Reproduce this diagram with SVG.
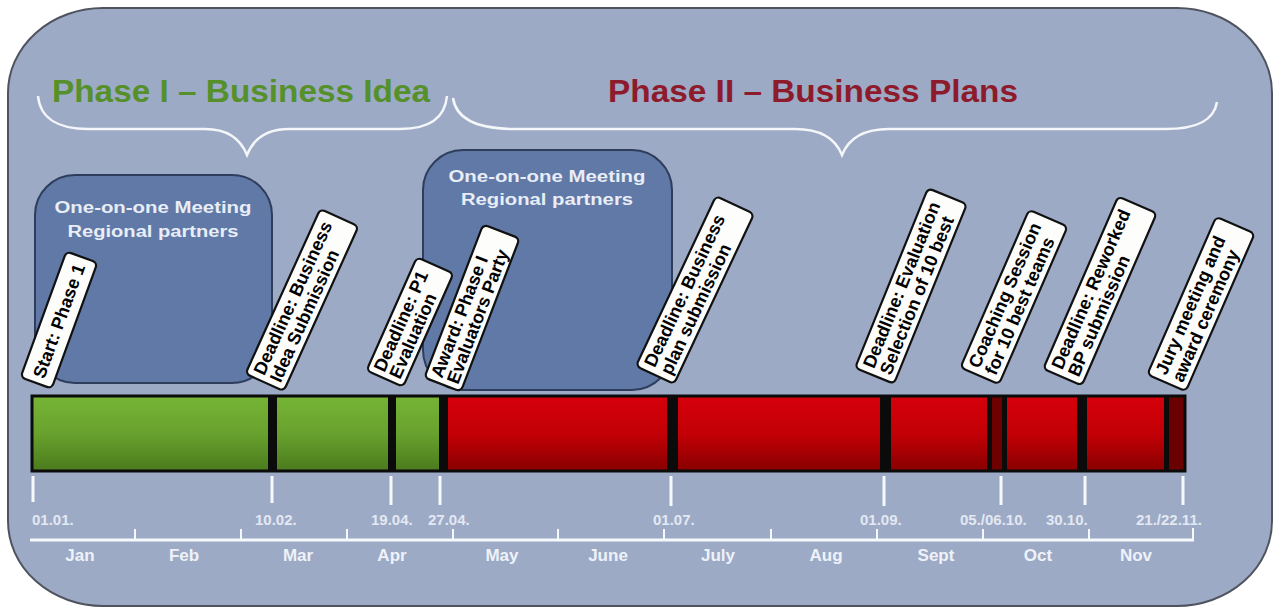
<svg xmlns="http://www.w3.org/2000/svg" width="1278" height="610" viewBox="0 0 1278 610">
<style>
.title{font-family:"Liberation Sans",Arial,sans-serif;font-weight:bold;font-size:31px}
.mt{font-family:"Liberation Sans",Arial,sans-serif;font-weight:bold;font-size:16px;fill:#E8EDF6;text-anchor:middle}
.meet{fill:#6079A6;stroke:#2E3D5C;stroke-width:2}
.tag{fill:#FDFDFB;stroke:#111;stroke-width:2.2}
.tt{font-family:"Liberation Sans",Arial,sans-serif;font-weight:bold;font-size:18px;fill:#000}
.brace{fill:none;stroke:#F4F6FA;stroke-width:2.5}
.div{fill:#0B0B0B}
.tick{stroke:#F6F8FB;stroke-width:3}
.date{font-family:"Liberation Sans",Arial,sans-serif;font-weight:bold;font-size:15px;fill:#E3E8F2}
.month{font-family:"Liberation Sans",Arial,sans-serif;font-weight:bold;font-size:17px;fill:#EEF2F8;text-anchor:middle}
</style>
<defs>
<linearGradient id="gGreen" x1="0" y1="0" x2="0" y2="1">
<stop offset="0" stop-color="#76B536"/>
<stop offset="0.5" stop-color="#68A22E"/>
<stop offset="1" stop-color="#4B7A1D"/>
</linearGradient>
<linearGradient id="gRed" x1="0" y1="0" x2="0" y2="1">
<stop offset="0" stop-color="#D6000C"/>
<stop offset="0.5" stop-color="#C30006"/>
<stop offset="1" stop-color="#880000"/>
</linearGradient>
</defs>
<rect width="1278" height="610" fill="#FFFFFF"/>
<rect id="frame" x="8" y="8" width="1264" height="598" rx="95" ry="85" fill="#9CAAC6" stroke="#4E535E" stroke-width="2"/>

<g id="phase1-title"><text class="title" x="52" y="102" fill="#55902A" textLength="378" lengthAdjust="spacingAndGlyphs">Phase I – Business Idea</text></g>
<g id="phase2-title"><text class="title" x="608" y="102" fill="#8E1B2C" textLength="410" lengthAdjust="spacingAndGlyphs">Phase II – Business Plans</text></g>

<g id="braces">
<path class="brace" d="M38 96 C40 118 58 129 88 129 L205 129 C228 129 241 140 247 155 C253 140 266 129 289 129 L400 129 C430 129 445 118 447 96"/>
<path class="brace" d="M453 98 C456 119 478 129 515 129 L795 129 C822 129 836 140 842 155 C848 140 862 129 889 129 L1165 129 C1198 129 1214 120 1217 102"/>
</g>

<g id="meeting1"><rect class="meet" x="35" y="175" width="237" height="208" rx="40"/>
<text class="mt" x="153" y="213" textLength="197" lengthAdjust="spacingAndGlyphs">One-on-one Meeting</text>
<text class="mt" x="153" y="237" textLength="171" lengthAdjust="spacingAndGlyphs">Regional partners</text></g>
<g id="meeting2"><rect class="meet" x="423" y="150" width="249" height="240" rx="40"/>
<text class="mt" x="547" y="182" textLength="197" lengthAdjust="spacingAndGlyphs">One-on-one Meeting</text>
<text class="mt" x="547" y="205" textLength="172" lengthAdjust="spacingAndGlyphs">Regional partners</text></g>

<g id="timeline-bar">
<rect x="32" y="396" width="412" height="75" fill="url(#gGreen)"/>
<rect x="444" y="396" width="741" height="75" fill="url(#gRed)"/>
<rect x="992" y="396" width="10" height="75" fill="#6E0000"/>
<rect x="1168" y="396" width="17" height="75" fill="#6A0000"/>
<rect class="div" x="268" y="396" width="9" height="75"/>
<rect class="div" x="388" y="396" width="8" height="75"/>
<rect class="div" x="439" y="396" width="9" height="75"/>
<rect class="div" x="667" y="396" width="11" height="75"/>
<rect class="div" x="880" y="396" width="11" height="75"/>
<rect class="div" x="987" y="396" width="5" height="75"/>
<rect class="div" x="1002" y="396" width="5" height="75"/>
<rect class="div" x="1077" y="396" width="10" height="75"/>
<rect class="div" x="1164" y="396" width="5" height="75"/>
<rect x="32" y="396" width="1153" height="75" fill="none" stroke="#0B0B0B" stroke-width="3"/>
</g>

<g id="connectors">
<line class="tick" x1="33" y1="476" x2="33" y2="502"/>
<line class="tick" x1="272" y1="476" x2="272" y2="503"/>
<line class="tick" x1="391" y1="476" x2="391" y2="505"/>
<line class="tick" x1="440" y1="476" x2="440" y2="505"/>
<line class="tick" x1="671" y1="476" x2="671" y2="506"/>
<line class="tick" x1="884" y1="476" x2="884" y2="506"/>
<line class="tick" x1="1001" y1="476" x2="1001" y2="505"/>
<line class="tick" x1="1085" y1="476" x2="1085" y2="505"/>
<line class="tick" x1="1183" y1="476" x2="1183" y2="505"/>
</g>

<g id="axis">
<line x1="30" y1="540" x2="1194" y2="540" stroke="#F6F8FB" stroke-width="3"/>
<path d="M135 540V529M241 540V529M347 540V529M453 540V529M558 540V529M664 540V529M771 540V529M877 540V529M983 540V529M1089 540V529M1193 541V528" stroke="#F6F8FB" stroke-width="2"/>
<text class="month" x="80" y="561">Jan</text>
<text class="month" x="184" y="561">Feb</text>
<text class="month" x="298" y="561">Mar</text>
<text class="month" x="392" y="561">Apr</text>
<text class="month" x="502" y="561">May</text>
<text class="month" x="608" y="561">June</text>
<text class="month" x="718" y="561">July</text>
<text class="month" x="826" y="561">Aug</text>
<text class="month" x="936" y="561">Sept</text>
<text class="month" x="1038" y="561">Oct</text>
<text class="month" x="1136" y="561">Nov</text>
</g>

<g id="dates">
<text class="date" x="32" y="525">01.01.</text>
<text class="date" x="255" y="525">10.02.</text>
<text class="date" x="371" y="525">19.04.</text>
<text class="date" x="428" y="525">27.04.</text>
<text class="date" x="653" y="525">01.07.</text>
<text class="date" x="860" y="525">01.09.</text>
<text class="date" x="960" y="525">05./06.10.</text>
<text class="date" x="1046" y="525">30.10.</text>
<text class="date" x="1136" y="525">21./22.11.</text>
</g>

<g id="tag-start" transform="translate(59,320) rotate(-70)"><rect class="tag" x="-67" y="-16.5" width="134" height="33" rx="5"/><text class="tt" x="-61" y="6.5">Start: Phase 1</text></g>
<g id="tag-deadline-idea" transform="translate(302,300) rotate(-65.6)"><rect class="tag" x="-90.5" y="-21" width="181" height="42" rx="5"/><text class="tt" x="-85" y="-3">Deadline: Business</text><text class="tt" x="-85" y="15">Idea Submission</text></g>
<g id="tag-deadline-p1" transform="translate(410,322) rotate(-66)"><rect class="tag" x="-62" y="-20" width="124" height="40" rx="5"/><text class="tt" x="-57" y="-2.5">Deadline: P1</text><text class="tt" x="-57" y="14.5">Evaluation</text></g>
<g id="tag-award" transform="translate(472,308) rotate(-69)"><rect class="tag" x="-82" y="-19.5" width="164" height="39" rx="5"/><text class="tt" x="-77" y="-2.5">Award: Phase I</text><text class="tt" x="-77" y="14.5">Evaluators Party</text></g>
<g id="tag-deadline-bp" transform="translate(695,290) rotate(-64.8)"><rect class="tag" x="-94" y="-21" width="188" height="42" rx="5"/><text class="tt" x="-88" y="-3">Deadline: Business</text><text class="tt" x="-88" y="15">plan submission</text></g>
<g id="tag-evaluation" transform="translate(911,286) rotate(-67.9)"><rect class="tag" x="-97" y="-21" width="194" height="42" rx="5"/><text class="tt" x="-91" y="-3">Deadline: Evaluation</text><text class="tt" x="-91" y="15">Selection of 10 best</text></g>
<g id="tag-coaching" transform="translate(1014,297) rotate(-66.5)"><rect class="tag" x="-86" y="-21" width="172" height="42" rx="5"/><text class="tt" x="-80" y="-3">Coaching Session</text><text class="tt" x="-80" y="15">for 10 best teams</text></g>
<g id="tag-reworked" transform="translate(1100,291) rotate(-66.5)"><rect class="tag" x="-94" y="-21" width="188" height="42" rx="5"/><text class="tt" x="-88" y="-3">Deadline: Reworked</text><text class="tt" x="-88" y="15">BP submission</text></g>
<g id="tag-jury" transform="translate(1201,304) rotate(-66.4)"><rect class="tag" x="-86" y="-21" width="172" height="42" rx="5"/><text class="tt" x="-80" y="-3">Jury meeting and</text><text class="tt" x="-80" y="15">award ceremony</text></g>
</svg>
